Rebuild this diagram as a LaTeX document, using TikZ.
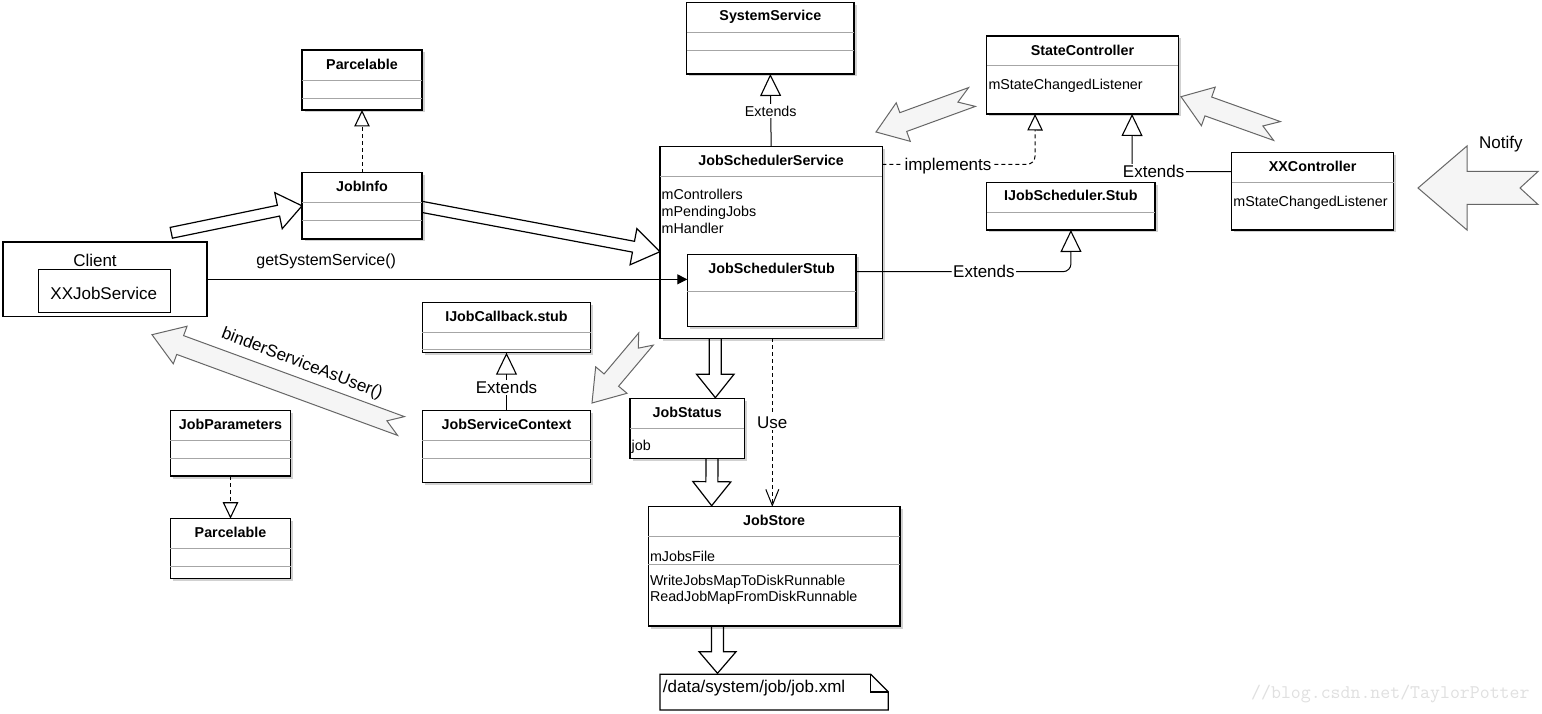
\documentclass[tikz,border=0pt]{standalone}
\usepackage{fontspec}
\setmainfont{Liberation Sans}
\usetikzlibrary{arrows.meta,calc,shadows}
\definecolor{grayfill}{HTML}{F5F5F5}
\definecolor{graystroke}{HTML}{666666}
\pgfdeclarelayer{bgl}
\pgfdeclarelayer{arrl}
\pgfsetlayers{bgl,arrl,main}
\newcommand\umlbox[5]{\node[cls, minimum width={#4-#2}, minimum height={#5-#3}] (#1) at (#2,#3) {};}
\newcommand\divl[2]{\draw[div] let \p1=(#1.west), \p2=(#1.east) in (\x1,#2) -- (\x2,#2);}
\newcommand\ttl[3]{\path let \p1=(#1.north) in node[ttlst] at (\x1,#2) {#3};}
\newcommand\attrl[3]{\path let \p1=(#1.west) in node[attrst] at ({\x1+1.5},#2) {#3};}
\newcommand\blockarrow[6][]{%
  \coordinate (ba-s) at #2;
  \coordinate (ba-e) at #3;
  \coordinate (ba-h) at ($(ba-e)!#6!(ba-s)$);
  \draw[#1] ($(ba-s)!#4!90:(ba-e)$) -- ($(ba-h)!#4!-90:(ba-s)$) -- ($(ba-h)!#5!-90:(ba-s)$) -- (ba-e)
    -- ($(ba-h)!#5!90:(ba-s)$) -- ($(ba-h)!#4!90:(ba-s)$) -- ($(ba-s)!#4!-90:(ba-e)$) -- cycle;}
\newcommand\notcharrow[7][]{%
  \coordinate (na-s) at #2;
  \coordinate (na-e) at #3;
  \coordinate (na-h) at ($(na-e)!#6!(na-s)$);
  \draw[#1] ($(na-s)!#4!90:(na-e)$) -- ($(na-h)!#4!-90:(na-s)$) -- ($(na-h)!#5!-90:(na-s)$) -- (na-e)
    -- ($(na-h)!#5!90:(na-s)$) -- ($(na-h)!#4!90:(na-s)$) -- ($(na-s)!#4!-90:(na-e)$) -- ($(na-s)!#7!(na-e)$) -- cycle;}
\begin{document}
\begin{tikzpicture}[x=1pt,y=-1pt,
  cls/.style={draw, line width=1.2pt, fill=white, anchor=north west, inner sep=0pt, outer sep=0pt,
    drop shadow={shadow xshift=2.5pt, shadow yshift=-2.5pt, fill=black, opacity=0.18}},
  plainbox/.style={draw, line width=1.2pt, fill=white, anchor=north west, inner sep=0pt, outer sep=0pt},
  ttlst/.style={font=\fontsize{14.3}{16}\selectfont\bfseries, anchor=base, inner sep=0pt},
  attrst/.style={font=\fontsize{14.3}{16}\selectfont, anchor=base west, inner sep=0pt},
  div/.style={draw=black!35, line width=1pt},
  lbl/.style={font=\fontsize{17}{20}\selectfont, fill=white, inner sep=1.5pt, text height=12.2pt, text depth=0pt},
  lblsm/.style={font=\fontsize{14.3}{16}\selectfont, fill=white, inner sep=1.5pt, text height=10.2pt, text depth=0pt},
  txt/.style={font=\fontsize{17}{20}\selectfont, inner sep=0pt, text height=12.2pt, text depth=0pt},
  link/.style={line width=1pt},
  realize/.style={link, dash pattern=on 4pt off 3pt, -{Triangle[open, length=16.5pt, width=15.5pt, line width=1.1pt]}},
  ext/.style={link, -{Triangle[open, length=22pt, width=21pt, line width=1.1pt]}},
  blk/.style={draw, line width=1.2pt, fill=white, line join=miter},
  gry/.style={draw=graystroke, fill=grayfill, line width=1pt, line join=miter},
]
\begin{pgfonlayer}{bgl}
\fill[white] (0,0) rectangle (1542,714);
\end{pgfonlayer}
\useasboundingbox (0,0) rectangle (1542,714);

% ---------- class boxes ----------
\umlbox{ss}{686.7}{2.7}{854}{74}
\divl{ss}{32.7}\divl{ss}{50.7}
\ttl{ss}{21}{SystemService}

\umlbox{pa}{302}{50}{422}{110}
\divl{pa}{80.7}\divl{pa}{98.3}
\ttl{pa}{69.3}{Parcelable}

\umlbox{ji}{302}{172.7}{422}{239}
\divl{ji}{203}\divl{ji}{221}
\ttl{ji}{191.7}{JobInfo}

\umlbox{jss}{660}{146.7}{882.3}{338.3}
\divl{jss}{176.7}
\ttl{jss}{165.7}{JobSchedulerService}
\attrl{jss}{200}{mControllers}
\attrl{jss}{216.7}{mPendingJobs}
\attrl{jss}{233.3}{mHandler}

\umlbox{stub}{687.3}{254.3}{856}{326.7}
\divl{stub}{291.7}
\ttl{stub}{273.3}{JobSchedulerStub}

\umlbox{sc}{986.8}{36}{1178.3}{114}
\divl{sc}{66}
\ttl{sc}{55.3}{StateController}
\attrl{sc}{90}{mStateChangedListener}

\umlbox{ijs}{986.8}{182.7}{1155}{230}
\divl{ijs}{212.3}
\ttl{ijs}{200.7}{IJobScheduler.Stub}

\umlbox{xx}{1231.7}{152.3}{1393.5}{230}
\divl{xx}{182.3}
\ttl{xx}{171.7}{XXController}
\attrl{xx}{206.7}{mStateChangedListener}

\umlbox{jcb}{422.3}{302.3}{590.7}{352.7}
\divl{jcb}{332.7}\divl{jcb}{349.5}
\ttl{jcb}{321.7}{IJobCallback.stub}

\umlbox{jsc}{422.3}{410.7}{590.7}{482.7}
\divl{jsc}{440.7}\divl{jsc}{458.7}
\ttl{jsc}{429.3}{JobServiceContext}

\umlbox{jp}{170.3}{410.7}{290.7}{476}
\divl{jp}{440.7}\divl{jp}{458.7}
\ttl{jp}{429.3}{JobParameters}

\umlbox{pb}{170.3}{518.7}{290.7}{578.3}
\divl{pb}{548.3}\divl{pb}{566.7}
\ttl{pb}{537.3}{Parcelable}

\umlbox{jst}{630}{398.3}{744.3}{458.3}
\divl{jst}{428.7}
\ttl{jst}{417.3}{JobStatus}
\attrl{jst}{450}{job}

\umlbox{js}{648.3}{506.7}{900}{626}
\divl{js}{536.7}\divl{js}{564.3}
\ttl{js}{525}{JobStore}
\attrl{js}{561.7}{mJobsFile}
\attrl{js}{585}{WriteJobsMapToDiskRunnable}
\attrl{js}{601.7}{ReadJobMapFromDiskRunnable}

% ---------- client ----------
\node[plainbox, minimum width=204, minimum height=74.7] (client) at (3,242) {};
\node[plainbox, minimum width=132, minimum height=43] (xxjs) at (38.3,269.3) {};
\node[txt] (clientlbl) at (95,260.6) {Client};
\node[txt] (xxjslbl) at (103.8,292.9) {XXJobService};

% ---------- file note ----------
\node[anchor=north west, minimum width=228.3, minimum height=35.7, inner sep=0pt, outer sep=0pt] (file) at (660,674.3) {};
\draw[line width=1.2pt, fill=white] (file.north west) -- ($(file.north east)+(-17.6,0)$) -- ($(file.north east)+(0,17.6)$)
  -- (file.south east) -- (file.south west) -- cycle;
\draw[line width=1.2pt] ($(file.north east)+(-17.6,0)$) -- ($(file.north east)+(-17.6,17.6)$) -- ($(file.north east)+(0,17.6)$);
\node[txt, anchor=base west] (filelbl) at (662.7,692.3) {/data/system/job/job.xml};

% ---------- block arrows (behind boxes) ----------
\begin{pgfonlayer}{arrl}
\blockarrow[blk]{($(client.north)+(66.3,-9.2)$)}{(ji.west)}{5.5pt}{18.4pt}{24pt}
\blockarrow[blk]{($(ji.east)+(-4,0.3)$)}{($(jss.north west)+(0,105)$)}{5.5pt}{18.4pt}{27pt}
\blockarrow[blk]{($(jss.south)+(-55.9,-1)$)}{($(jst.north)+(28.2,-0.6)$)}{6pt}{18.7pt}{23.4pt}
\blockarrow[blk]{($(jst.south)+(24.9,-1)$)}{($(js.north)+(-62.5,-1)$)}{6pt}{19pt}{24pt}
\blockarrow[blk]{($(js.south)+(-56.6,-1)$)}{($(file.north west)+(57.5,-1)$)}{6pt}{18.5pt}{21.6pt}
% gray notched arrows
\notcharrow[gry]{($(sc.west)+(-14.8,22)$)}{($(jss.north east)+(-6.3,-14.7)$)}{10pt}{20.5pt}{29pt}{15pt}
\notcharrow[gry]{($(xx.north)+(-35.6,-21.3)$)}{($(sc.east)+(2.7,21.7)$)}{10pt}{20.5pt}{29pt}{15pt}
\notcharrow[gry]{($(jss.south west)+(-14,0.7)$)}{($(jsc.north east)+(1.3,-7.7)$)}{9.5pt}{20.5pt}{30pt}{12pt}
\notcharrow[gry]{($(jsc.west)+(-21.3,-20.7)$)}{($(client.south)+(47,18)$)}{10pt}{20pt}{30pt}{15pt}
\coordinate (notifytail) at ($(xx.east)+(144.5,-3.15)$);
\coordinate (notifytip) at ($(xx.east)+(24.5,-3.15)$);
\notcharrow[gry]{(notifytail)}{(notifytip)}{16.5pt}{42pt}{49pt}{18pt}
\end{pgfonlayer}

% ---------- connectors ----------
\draw[realize] (ji.north) -- (pa.south);
\draw[realize] (jp.south) -- (pb.north);
\draw[ext] (jss.north) -- node[lblsm, pos=0.49] {Extends} (ss.south);
\draw[ext] (jsc.north) -- node[lbl, pos=0.405] {Extends} (jcb.south);
\draw[realize, rounded corners=8pt] ($(jss.north east)+(0,17.6)$) -- node[lbl, pos=0.43] {implements} (1035,164.3) -- ($(sc.south)+(-47.5,0)$);
\draw[ext] ($(xx.north west)+(0,19.4)$) -- node[lbl, pos=0.783] {Extends} (1132,171.7) -- ($(sc.south)+(49.5,0)$);
\draw[ext, rounded corners=8pt] ($(stub.north east)+(0,17.4)$) -- node[lbl, pos=0.595] {Extends} (1071,271.7) -- (ijs.south);
\draw[link, -{Triangle[length=10pt, width=10pt]}] (client.east) -- (client.east -| stub.west);
\draw[link, dash pattern=on 4pt off 3pt, -{Straight Barb[length=16pt, width=13pt, line width=1pt]}]
  ($(jss.south)+(1.15,0)$) -- node[lbl, pos=0.5] {Use} ($(js.north)+(-1.85,0)$);

% ---------- free labels ----------
\node[font=\fontsize{16}{19}\selectfont, inner sep=0pt, text height=11.5pt, text depth=0pt] (gss) at (326.2,260) {getSystemService()};
\node[font=\fontsize{17}{20}\selectfont, inner sep=0pt, rotate=-21] (binder) at (302,364) {binderServiceAsUser()};
\node[txt] (notify) at (1500.8,142.2) {Notify};
\node[font=\fontsize{19.3}{21}\selectfont\ttfamily, text=black!12, anchor=base west, inner sep=0pt] (wm) at (1251,698.3) {//blog.csdn.net/TaylorPotter};
\end{tikzpicture}
\end{document}
